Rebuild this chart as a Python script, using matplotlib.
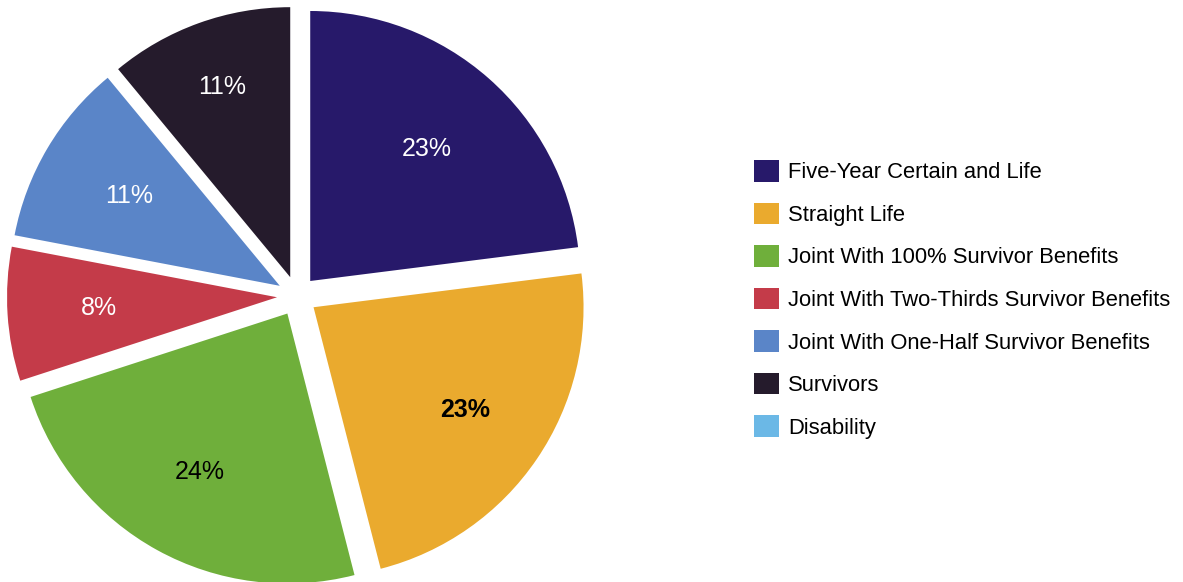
import numpy as np
import matplotlib
matplotlib.use("Agg")
import matplotlib.pyplot as plt
from matplotlib.patches import Patch

plt.rcParams["font.family"] = ["Liberation Sans", "DejaVu Sans"]

# annuity option shares (percent)
options = [
    "Five-Year Certain and Life",
    "Straight Life",
    "Joint With 100% Survivor Benefits",
    "Joint With Two-Thirds Survivor Benefits",
    "Joint With One-Half Survivor Benefits",
    "Survivors",
    "Disability",
]
shares = [23, 23, 24, 8, 11, 11, 0]
colors = ["#27196A", "#EAAA2E", "#6FAF3B", "#C43B49", "#5A85C8", "#251B2C", "#6BB8E6"]

# label styling per slice
label_colors = ["white", "black", "black", "white", "white", "white", "white"]
label_weights = ["normal", "bold", "normal", "normal", "normal", "normal", "normal"]
label_dist = [0.65, 0.68, 0.67, 0.66, 0.65, 0.75, 0.65]

W, H = 1183, 582
fig = plt.figure(figsize=(W / 100, H / 100), dpi=100)
ax = fig.add_axes([0, 0, 1, 1])

wedges, _ = ax.pie(
    shares,
    colors=colors,
    explode=[20] * len(shares),
    startangle=90,
    counterclock=False,
    radius=270,
    center=(297, 286),
    wedgeprops=dict(linewidth=0),
)
ax.set_xlim(0, W)
ax.set_ylim(0, H)
ax.set_aspect("equal")
ax.axis("off")

for w, v, c, fw, d in zip(wedges, shares, label_colors, label_weights, label_dist):
    if v <= 0:
        continue
    th = np.deg2rad((w.theta1 + w.theta2) / 2)
    cx, cy = w.center
    ax.text(cx + d * w.r * np.cos(th), cy + d * w.r * np.sin(th), f"{v:.0f}%",
            ha="center", va="center", fontsize=18, color=c, fontweight=fw)

handles = [Patch(facecolor=c, edgecolor="none") for c in colors]
fig.legend(
    handles, options,
    loc="upper left",
    bbox_to_anchor=(754 / W, 1 - 160 / H),
    frameon=False,
    fontsize=15.8,
    handlelength=1.14,
    handleheight=1.14,
    handletextpad=0.4,
    labelspacing=0.88,
    borderpad=0,
    borderaxespad=0,
)

fig.savefig("out.png", dpi=100, facecolor="white")
